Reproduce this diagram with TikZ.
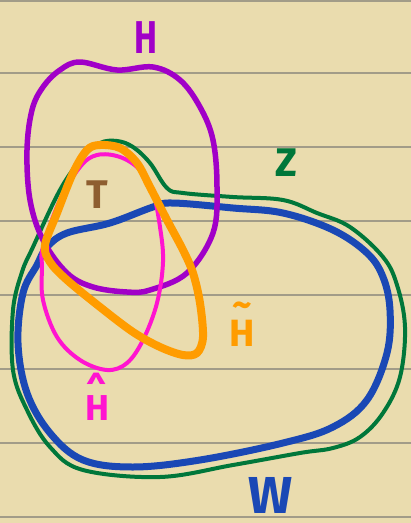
\documentclass[tikz,border=0pt]{standalone}
\usepackage{fontspec}
\setmainfont{Fira Sans}
\usetikzlibrary{calc}
\definecolor{paper}{HTML}{EADCAE}
\definecolor{rule}{HTML}{A29C88}
\definecolor{setH}{HTML}{A100C8}
\definecolor{setZ}{HTML}{00773A}
\definecolor{setW}{HTML}{1A48B5}
\definecolor{hatH}{HTML}{FF14D0}
\definecolor{tilH}{HTML}{FF9C00}
\definecolor{setT}{HTML}{8E5E30}

\begin{document}
\begin{tikzpicture}[x=1pt,y=-1pt,line cap=round,line join=round,
  lbl/.style={font=\bfseries\fontsize{#1}{#1}\selectfont,inner sep=0pt}]
  \fill[paper] (0,0) rectangle (411,523);
  \useasboundingbox (0,0) rectangle (411,523);
  \foreach \y in {1,73,147,221,295,369,443,517}
    \draw[rule,line width=1.2pt] (0,\y) -- (411,\y);

  % Z
  \draw[setZ,line width=4pt] plot[smooth cycle,tension=0.6] coordinates {
    (33,247) (60,190) (83,157) (100,143) (117,141) (133,147) (150,163)
    (167,188) (183,193) (233,197) (283,200) (317,213) (350,227) (383,257)
    (397,285) (405,327) (400,377) (383,413) (360,437) (333,448) (300,453)
    (233,465) (160,477) (83,470) (50,447) (27,410) (13,370) (13,310) (22,272)};
  % W
  \draw[setW,line width=7pt] plot[smooth cycle,tension=0.6] coordinates {
    (47,247) (67,233) (110,223) (153,207) (173,203) (233,208) (283,213)
    (333,230) (367,253) (383,277) (390,310) (387,353) (367,400) (333,427)
    (283,443) (200,460) (133,467) (83,460) (50,433) (27,393) (18,343)
    (23,293) (37,265)};
  % H
  \draw[setH,line width=5.5pt] plot[smooth cycle,tension=0.6] coordinates {
    (80,62) (117,70) (153,67) (180,80) (200,107) (213,140) (217,187)
    (213,233) (187,273) (150,290) (127,292) (93,287) (67,273) (43,240)
    (30,200) (27,150) (32,110) (43,87) (60,70)};
  % hat H
  \draw[hatH,line width=4pt] plot[smooth cycle,tension=0.6] coordinates {
    (43,247) (60,200) (80,167) (97,155) (120,157) (140,170) (153,193)
    (160,227) (163,262) (157,303) (143,340) (127,363) (107,370) (80,360)
    (57,337) (43,300) (42,267)};
  % tilde H
  \draw[tilH,line width=8pt] plot[smooth cycle,tension=0.55] coordinates {
    (45,245) (57,213) (73,173) (87,150) (100,145) (120,148) (137,163)
    (150,187) (167,220) (183,250) (193,273) (200,303) (203,337) (197,353)
    (183,355) (160,347) (133,332) (100,307) (67,280) (50,262)};

  \node[lbl=46,setH,xscale=0.75] (labH) at (146,38) {H};
  \node[lbl=40,setZ] (labZ) at (286,163) {Z};
  \node[lbl=40,setT] (labT) at (97,195) {T};
  \node[lbl=36,hatH,align=center,anchor=base] (labhat) at (97,420)
    {\textasciicircum\\[-19pt]H};
  \node[lbl=38,tilH,align=center,anchor=base] (labtil) at (242,346)
    {\textasciitilde\\[-9pt]H};
  \node[lbl=52,setW] (labW) at (271,495) {W};
\end{tikzpicture}
\end{document}
